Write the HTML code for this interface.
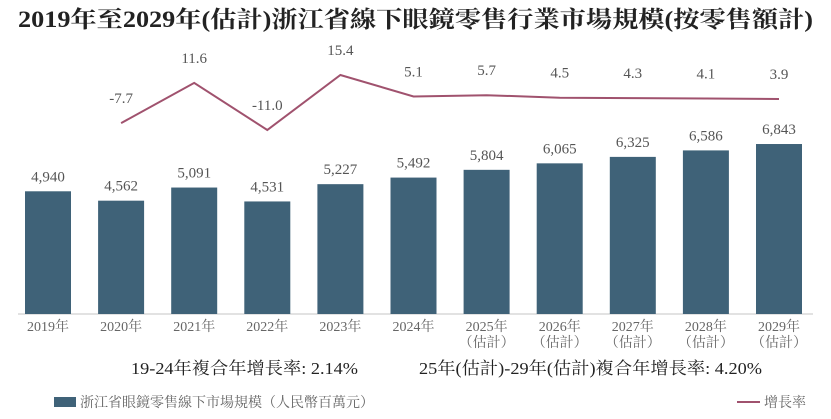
<!DOCTYPE html>
<html><head><meta charset="utf-8"><style>
body{margin:0;background:#fff;width:831px;height:414px;overflow:hidden}
svg text{font-family:"Liberation Serif","Noto Serif CJK SC","Noto Sans CJK TC",serif}
</style></head><body>
<svg width="831" height="414">
<text x="18" y="27" font-size="23" font-weight="bold" fill="#222" textLength="795" lengthAdjust="spacingAndGlyphs">2019年至2029年(估計)浙江省線下眼鏡零售行業市場規模(按零售額計)</text>
<line x1="18" y1="314" x2="813" y2="314" stroke="#d8d8d8" stroke-width="1.5"/>
<g id="bars"></g><g id="line"></g><g id="xl"></g>
<text x="131" y="374" font-size="17" fill="#222" textLength="227" lengthAdjust="spacingAndGlyphs">19-24年複合年增長率: 2.14%</text>
<text x="419" y="374" font-size="17" fill="#222" textLength="343" lengthAdjust="spacingAndGlyphs">25年(估計)-29年(估計)複合年增長率: 4.20%</text>
<rect x="54" y="397" width="22" height="10" fill="#3f6278"/>
<text x="80" y="407" font-size="14" fill="#666">浙江省眼鏡零售線下市場規模（人民幣百萬元）</text>
<line x1="737" y1="402" x2="760" y2="402" stroke="#a0526e" stroke-width="2"/>
<text x="764" y="407" font-size="14" fill="#666">增長率</text>
</svg>
<script>
const years=["2019年","2020年","2021年","2022年","2023年","2024年","2025年","2026年","2027年","2028年","2029年"];
const estimated=[false,false,false,false,false,false,true,true,true,true,true];
const marketSize=[4940,4562,5091,4531,5227,5492,5804,6065,6325,6586,6843];
const growthRate=[null,-7.7,11.6,-11.0,15.4,5.1,5.7,4.5,4.3,4.1,3.9];
const NS="http://www.w3.org/2000/svg";
const xs=i=>48+i*73.1, yb=v=>314-v*0.02484, yl=v=>75+(15.4-v)*2.083;
function mk(t,a,p,txt){const e=document.createElementNS(NS,t);for(const k in a)e.setAttribute(k,a[k]);if(txt!=null)e.textContent=txt;p.appendChild(e);return e;}
const B=document.getElementById('bars'),L=document.getElementById('line'),X=document.getElementById('xl');
marketSize.forEach((v,i)=>{
 const r=mk('rect',{x:xs(i)-23,y:yb(v),width:46,height:314-yb(v),fill:'#3f6278'},B);
 
 
 const t=mk('text',{x:xs(i),y:yb(v)-10,'text-anchor':'middle','font-size':15,fill:'#555'},B,v.toLocaleString('en-US'));
 
 
 const xl=mk('text',{x:xs(i),y:331,'text-anchor':'middle','font-size':14,fill:'#666'},X,years[i]);
 
 
 if(estimated[i]){const e=mk('text',{x:xs(i),y:347,'text-anchor':'middle','font-size':14,fill:'#666'},X,'（估計）');
 
 }
});
let pts=[];
growthRate.forEach((v,i)=>{if(v==null)return;pts.push(xs(i)+','+yl(v));
 const t=mk('text',{x:xs(i),y:yl(v)-20,'text-anchor':'middle','font-size':15,fill:'#555'},L,v.toFixed(1));
 
 });
const pl=mk('polyline',{points:pts.join(' '),fill:'none',stroke:'#a0526e','stroke-width':2},L);


</script>
</body></html>
